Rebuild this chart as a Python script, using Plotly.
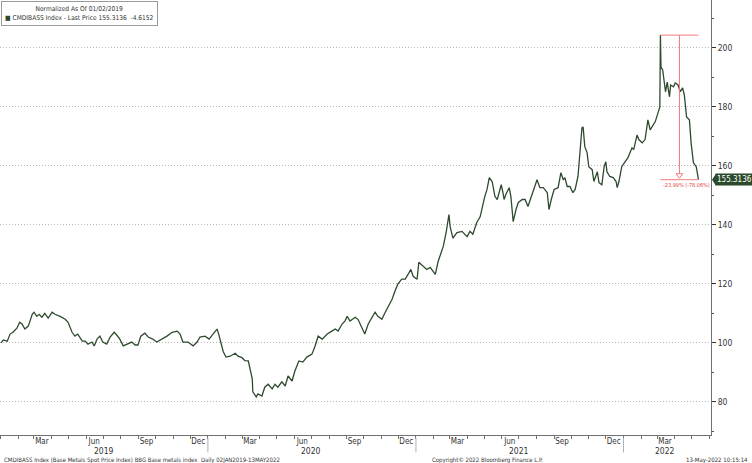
import pandas as pd
import plotly.graph_objects as go

start_date = "2019-01-02"
day_offsets = [0,4,11,16,21,28,33,37,42,48,
 55,58,63,67,72,77,83,90,95,104,
 113,118,125,130,135,143,148,153,160,164,
 169,174,179,186,192,199,204,209,215,222,
 230,236,241,246,253,259,267,274,283,292,
 301,310,315,320,329,338,345,350,359,366,
 373,380,383,391,396,403,412,417,424,429,
 435,438,442,443,449,452,459,464,470,477,
 482,487,494,500,505,512,517,524,531,538,
 547,552,558,565,574,582,588,593,600,605,
 609,614,623,628,635,640,646,653,658,663,
 670,676,681,688,693,698,705,711,716,721,
 725,732,735,742,749,755,764,769,774,778,
 783,788,790,795,802,811,820,825,830,837,
 843,848,851,855,859,864,866,869,873,880,
 883,885,888,894,897,901,906,910,917,922,
 927,934,939,943,948,954,961,964,968,973,
 980,985,989,992,996,1001,1006,1010,1015,1019,
 1022,1024,1027,1031,1034,1040,1043,1049,1052,1057,
 1061,1064,1066,1071,1077,1082,1084,1087,1092,1098,
 1103,1110,1113,1119,1122,1128,1133,1138,1142,1151,
 1156,1159,1160,1161,1164,1167,1169,1172,1176,1178,
 1183,1186,1191,1195,1199,1202,1206,1211,1214,1218,
 1223,1227]
values = [100,101,100.6,103,103.6,105,107,106.4,104.7,105.7,
 109.7,110.4,109,109.7,108.7,110,108.4,110.4,109.7,109,
 108,107,103.6,102.3,103,100.6,100.6,99.6,100.3,99,
 101.3,102.3,100.3,99.6,102,103.6,102.6,101.3,99,99.6,
 100.3,99.3,99.3,102.3,103.3,102,101.3,100.3,101.3,102.3,
 103.6,104,103,100.3,100.3,99,100.3,102,102.3,101.3,
 103,104.7,103,97,95.2,95.5,96.5,95.5,95,94,
 93.9,91.1,87.8,83.4,81.7,82.7,82,85,86,84.4,
 86,85,86.8,85.4,88.8,87.1,90.5,93.9,93.5,95.2,
 96.2,98.6,102.3,101.3,103,104,104.7,104,106.4,107.4,
 109,107.4,108.7,108,105.3,103,106.4,109,110.4,109,
 108,110.4,112.4,114.8,117.5,119.9,121.6,121.6,123.2,124.9,
 122.6,121.6,127.3,126,124.9,125.6,123.2,127.6,130.7,132.7,
 137.4,143.5,139.5,135.5,137.4,137.8,136,137.8,136.8,140.8,
 142.8,147.6,149.6,152,156,154.7,153,149.6,148.6,153.6,
 150.9,148.6,150.3,152.6,149.6,141.1,145.2,147.6,148.6,148.6,
 146.2,150.3,153.6,155.3,152.6,152.6,150.9,145.2,148.6,152,
 152.6,157.7,155.3,156,153,153,150.9,152,156.4,164.5,
 172.9,173.2,166.5,164.5,159.7,158.7,154.7,158,154.3,153.6,
 159.7,161.4,158,156.4,156,154.7,152.6,154.7,159.7,161.4,
 162.8,166.1,165.5,170.5,168.9,167.8,168.9,175.6,172.2,175,
 178,180,204.3,193.5,192.5,188.1,185.1,188.4,183.4,187.4,
 186.8,188.1,187.4,185.1,186.4,184.1,176.6,175.6,167.8,161.1,
 159.7,155.3136]

month_tick_dates = ["2019-03-15","2019-06-15","2019-09-15","2019-12-15",
                    "2020-03-15","2020-06-15","2020-09-15","2020-12-15",
                    "2021-03-15","2021-06-15","2021-09-15","2021-12-15",
                    "2022-03-15"]
month_tick_labels = ["Mar","Jun","Sep","Dec","Mar","Jun","Sep","Dec",
                     "Mar","Jun","Sep","Dec","Mar"]
year_labels = ["2019","2020","2021","2022"]
year_label_dates = ["2019-07-02","2020-07-01","2021-07-02","2022-03-15"]
year_breaks = ["2020-01-01","2021-01-01","2022-01-01"]
y_ticks = [80,100,120,140,160,180,200]

legend_title = "Normalized As Of 01/02/2019"
legend_series = "CMDIBASS Index - Last Price 155.3136  -4.6152"
last_label = "155.3136"
drawdown_text = "-23.99% (-78.06%)"
footer_left = "CMDIBASS Index (Base Metals Spot Price Index) BBG Base metals index  Daily 02JAN2019-13MAY2022"
footer_mid = "Copyright\u00a9 2022 Bloomberg Finance L.P."
footer_right = "13-May-2022 10:15:14"

FONT = "'DejaVu Sans Condensed', 'DejaVu Sans', sans-serif"
LINE = "#2e4a2e"
RED = "#f07a7a"

dates = pd.Timestamp(start_date) + pd.to_timedelta(day_offsets, unit="D")
s = pd.Series(values, index=dates)
peak_date = s.idxmax()
peak_val = s.max()
last_date = s.index[-1]
last_val = s.iloc[-1]
mid_date = peak_date + (last_date - peak_date) / 2

fig = go.Figure()
fig.add_trace(go.Scatter(x=dates, y=values, mode="lines",
                         line=dict(color=LINE, width=1.3), hoverinfo="skip",
                         showlegend=False))
fig.add_trace(go.Scatter(x=[mid_date], y=[last_val + 1.5], mode="markers",
                         marker=dict(symbol="triangle-down-open", size=6,
                                     color=RED, line=dict(width=1)),
                         showlegend=False, hoverinfo="skip"))

shapes = []
shapes.append(dict(type="line", xref="x", yref="y", x0=peak_date, x1=last_date,
                   y0=peak_val, y1=peak_val, line=dict(color=RED, width=1)))
shapes.append(dict(type="line", xref="x", yref="y", x0=mid_date, x1=mid_date,
                   y0=peak_val, y1=last_val + 2.2, line=dict(color=RED, width=1)))
shapes.append(dict(type="line", xref="x", yref="y", x0=peak_date, x1=last_date,
                   y0=last_val, y1=last_val, line=dict(color=RED, width=1)))
for yb in year_breaks:
    shapes.append(dict(type="line", xref="x", yref="paper", x0=yb, x1=yb,
                       y0=-0.006, y1=-0.04, line=dict(color="#b0b0b0", width=1)))
shapes.append(dict(type="path", xref="paper", yref="y", xsizemode="pixel",
                   ysizemode="pixel", xanchor=1, yanchor=last_val,
                   path="M 1,0 L 5,6 L 5,-6 Z", fillcolor="#2b4a2b",
                   line=dict(width=0)))

annotations = []
annotations.append(dict(xref="paper", yref="paper", x=0.0015, y=0.997,
                        xanchor="left", yanchor="top", showarrow=False,
                        text=legend_title + "<br><span style='color:#2e4a2e'>\u25a0</span> " + legend_series,
                        align="center", font=dict(family=FONT, size=6.6, color="#333"),
                        bordercolor="#9a9a9a", borderwidth=1, borderpad=3,
                        bgcolor="white"))
annotations.append(dict(xref="paper", yref="y", x=1, y=last_val, xanchor="left",
                        yanchor="middle", xshift=4, showarrow=False,
                        text=last_label, bgcolor="#2b4a2b", borderpad=1,
                        font=dict(family=FONT, size=8, color="white")))
annotations.append(dict(xref="x", yref="y", x=mid_date, y=last_val,
                        xanchor="center", yanchor="top", showarrow=False,
                        yshift=0, xshift=7, text=drawdown_text,
                        font=dict(family=FONT, size=5.5, color="#e04040")))
for lab, d in zip(year_labels, year_label_dates):
    annotations.append(dict(xref="x", yref="paper", x=d, y=-0.037,
                            xanchor="center", yanchor="middle", showarrow=False,
                            text=lab, font=dict(family=FONT, size=8.5, color="#333")))
annotations.append(dict(xref="paper", yref="paper", x=0.0028, y=-0.058,
                        xanchor="left", yanchor="middle", showarrow=False,
                        text=footer_left, font=dict(family=FONT, size=6, color="#333")))
annotations.append(dict(xref="paper", yref="paper", x=430/711, y=-0.058,
                        xanchor="left", yanchor="middle", showarrow=False,
                        text=footer_mid, font=dict(family=FONT, size=6, color="#333")))
annotations.append(dict(xref="paper", yref="paper", x=750/711, y=-0.058,
                        xanchor="right", yanchor="middle", showarrow=False,
                        text=footer_right, font=dict(family=FONT, size=6, color="#333")))

fig.update_layout(
    width=752, height=463,
    margin=dict(l=0, r=41, t=0, b=28, autoexpand=False),
    paper_bgcolor="white", plot_bgcolor="white",
    font=dict(family=FONT, color="#333"),
    shapes=shapes, annotations=annotations,
    xaxis=dict(range=["2018-12-31 06:00", "2022-06-04"], type="date",
               automargin=False, ticklabelstandoff=-2,
               tickmode="array", tickvals=month_tick_dates, ticktext=month_tick_labels,
               ticks="", showgrid=False, zeroline=False,
               showline=True, linecolor="#707070", linewidth=1,
               tickfont=dict(family=FONT, size=8, color="#333"),
               minor=dict(tickmode="linear", tick0="2019-01-01", dtick="M1",
                          ticks="outside", ticklen=3, tickcolor="#707070",
                          showgrid=False)),
    yaxis=dict(side="right", range=[68.8, 216.2], tickmode="array",
               automargin=False,
               tickvals=y_ticks, ticks="outside", ticklen=4, tickcolor="#333",
               showline=True, linecolor="#707070", linewidth=1,
               showgrid=True, gridcolor="#b8b8b8", griddash="1px,2px", gridwidth=1,
               zeroline=False,
               tickfont=dict(family=FONT, size=8.5, color="#333"),
               minor=dict(tickmode="linear", tick0=0, dtick=10, ticks="outside",
                          ticklen=2, tickcolor="#555", showgrid=False)),
)

fig.write_html("out.html", config={"displayModeBar": False},
               post_script="document.body.style.margin='0';document.body.style.padding='0';")
